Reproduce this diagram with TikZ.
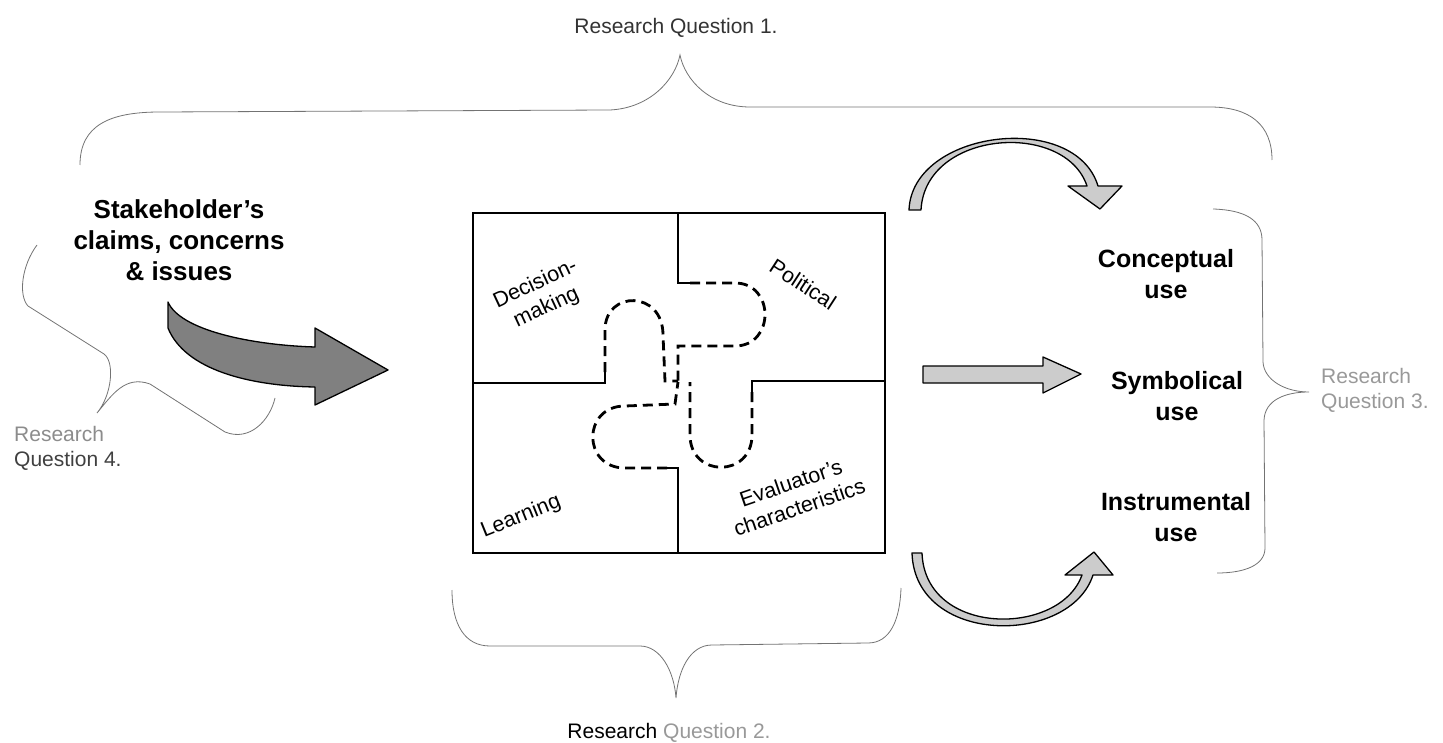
\documentclass[tikz,border=0pt]{standalone}
\usepackage{fontspec}
\setmainfont{Liberation Sans}
\definecolor{bracegray}{gray}{0.45}
\definecolor{lightgray1}{gray}{0.6}
\definecolor{darkfill}{gray}{0.5}
\definecolor{lightfill}{gray}{0.8}
\begin{document}
\begin{tikzpicture}[x=1pt,y=-1pt,
  brace/.style={draw=bracegray,line width=0.8pt},
  rqlabel/.style={font=\fontsize{21}{25}\selectfont,inner sep=0pt},
  uselabel/.style={font=\fontsize{25}{31}\selectfont\bfseries,align=center,inner sep=0pt},
  piecelabel/.style={font=\fontsize{21.5}{26}\selectfont,align=center,inner sep=0pt},
  piecewall/.style={draw=black,line width=1.3pt},
  tabline/.style={draw=black,line width=2.8pt,dash pattern=on 10pt off 6pt},
  blockarrow/.style={draw=black,line width=1.3pt,line join=round},
]
\path[use as bounding box] (0,0) rectangle (1443,743);

% ---- research question labels ----
\node[rqlabel,text=black!80] (rq1) at (676,28) {Research Question 1.};
\node[rqlabel] (rq2) at (669,733) {Research \textcolor{lightgray1}{Question 2.}};
\node[rqlabel,anchor=west,align=left,text=black!40] (rq3) at (1321,390) {Research\\Question 3.};
\node[rqlabel,anchor=west,align=left] (rq4) at (14,448) {\textcolor{black!45}{Research}\\\textcolor{black!75}{Question 4.}};

% ---- braces ----
\draw[brace] (80,165) .. controls (80,125) and (110,112) .. (160,112) -- (610,110)
  .. controls (650,108) and (675,80) .. (680,55)
  .. controls (685,80) and (710,107) .. (750,107) -- (1210,107)
  .. controls (1250,107) and (1272,125) .. (1272,160);
\draw[brace] (452,590) .. controls (452,625) and (465,646) .. (490,646) -- (640,646)
  .. controls (660,646) and (674,670) .. (676,698)
  .. controls (678,670) and (690,645) .. (712,645) -- (868,643)
  .. controls (890,643) and (900,620) .. (901,588);
\draw[brace] (1213,209) .. controls (1245,210) and (1262,220) .. (1262,240) -- (1263,362)
  .. controls (1264,380) and (1285,392) .. (1309,392)
  .. controls (1285,392) and (1265,400) .. (1264,420) -- (1265,548)
  .. controls (1265,565) and (1245,573) .. (1217,573);
\draw[brace] (37,245) .. controls (22,265) and (18,295) .. (28,306) -- (104,354)
  .. controls (115,362) and (112,395) .. (97,413)
  .. controls (112,395) and (125,375) .. (150,384) -- (225,432)
  .. controls (250,442) and (270,420) .. (275,398);

% ---- stakeholder input ----
\node[uselabel,font=\fontsize{26}{31}\selectfont\bfseries] (stake) at (179,240) {Stakeholder’s\\claims, concerns\\\& issues};
\filldraw[blockarrow,fill=darkfill] (168,302) .. controls (180,330) and (250,345) .. (315,347)
  -- (315,328) -- (388,370) -- (315,405) -- (315,387)
  .. controls (250,386) and (185,370) .. (168,328) -- cycle;

% ---- four-piece puzzle ----
\draw[line width=1.4pt] (473,213) rectangle (885,553);
\draw[piecewall] (473,383) -- (605,383) -- (605,372);
\draw[piecewall] (678,213) -- (678,283) -- (690,283);
\draw[piecewall] (885,381) -- (752,381) -- (752,392);
\draw[piecewall] (678,553) -- (678,468) -- (667,468);
\draw[tabline] (605,372) -- (605,330) .. controls (605,290) and (663,290) .. (663,335) -- (665,381) -- (678,381);
\draw[tabline] (690,283) -- (735,283) .. controls (775,283) and (775,346) .. (735,346) -- (678,346) -- (678,381);
\draw[tabline] (752,392) -- (752,435) .. controls (752,478) and (690,478) .. (690,435) -- (690,382);
\draw[tabline] (667,468) -- (625,468) .. controls (582,468) and (582,406) .. (625,406) -- (675,404) -- (678,382);

\node[piecelabel,rotate=25] (dec) at (541,296) {Decision-\\making};
\node[piecelabel,rotate=-33] (pol) at (803,284) {Political};
\node[piecelabel,rotate=22] (learn) at (521,517) {Learning};
\node[piecelabel,rotate=19] (eval) at (795,495) {Evaluator's\\characteristics};

% ---- kinds of use ----
\node[uselabel] (concept) at (1166,274) {Conceptual\\use};
\node[uselabel] (symbol) at (1177,396) {Symbolical\\use};
\node[uselabel] (instr) at (1176,517) {Instrumental\\use};

% ---- output arrows ----
\filldraw[blockarrow,fill=lightfill] (909,210) .. controls (912,130) and (1075,110) .. (1098,186)
  -- (1122,186) -- (1100,209) -- (1068,186) -- (1087,186)
  .. controls (1065,120) and (925,130) .. (921,210) -- cycle;
\filldraw[blockarrow,fill=lightfill] (923,366) -- (1043,366) -- (1043,357) -- (1081,374)
  -- (1043,393) -- (1043,383) -- (923,383) -- cycle;
\filldraw[blockarrow,fill=lightfill] (912,553) .. controls (915,646) and (1070,646) .. (1093,575)
  -- (1113,575) -- (1094,552) -- (1065,575) -- (1082,575)
  .. controls (1060,637) and (925,637) .. (922,553) -- cycle;
\end{tikzpicture}
\end{document}
